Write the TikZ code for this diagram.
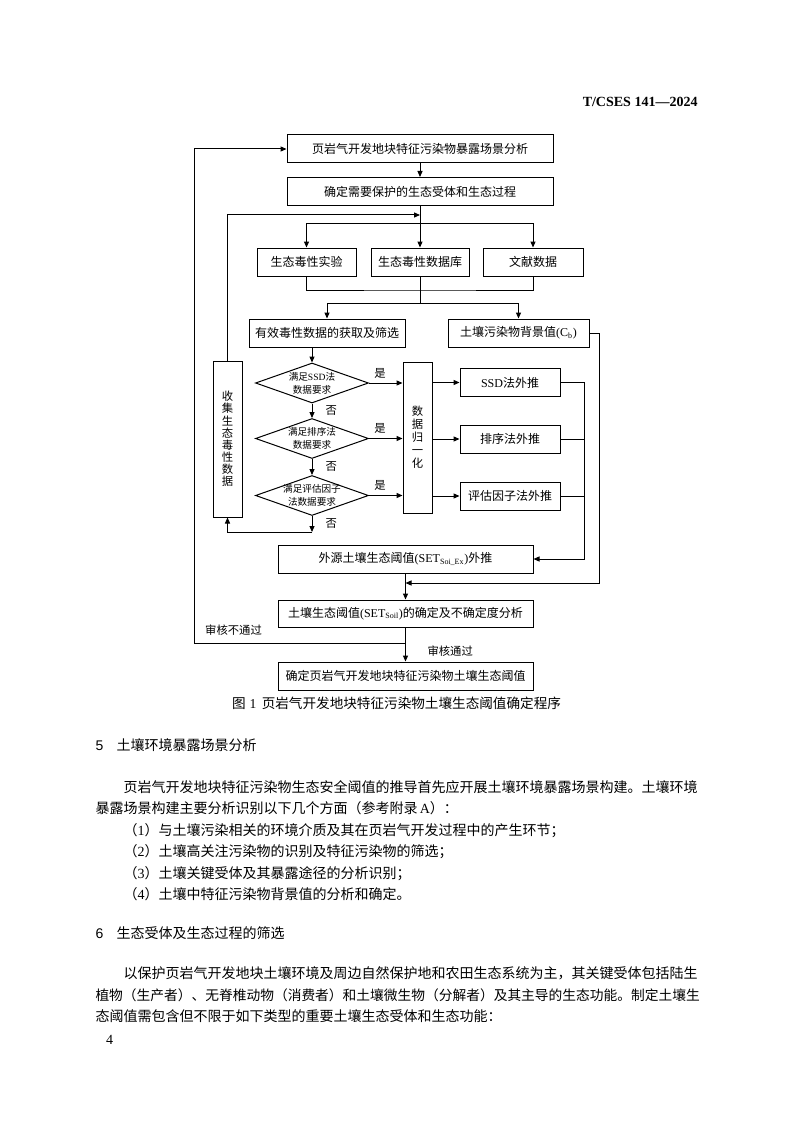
\documentclass[tikz,border=0pt]{standalone}
\usepackage{fontspec}
\setmainfont{Liberation Serif}
\setsansfont{Liberation Sans}
\newfontfamily\cjk{Noto Sans CJK SC}
\usetikzlibrary{positioning,shapes.geometric,arrows.meta}
\newcommand{\lat}[1]{{\rmfamily #1}}

\tikzset{every picture/.style={line width=0.75pt}}
\tikzset{
  box/.style={draw, inner sep=0.75pt, minimum height=21pt, font=\cjk\fontsize{9}{10}\selectfont},
  dia/.style={draw, diamond, shape aspect=2.8, inner sep=-3pt, minimum width=84.75pt, minimum height=30pt, align=center, font=\cjk\fontsize{7.2}{9.8}\selectfont},
  vbox/.style={draw, inner sep=0.75pt, minimum width=21.75pt, align=center},
  lbl/.style={inner sep=0.75pt, font=\cjk\fontsize{8.5}{10}\selectfont},
  body/.style={anchor=base west, inner sep=0pt, font=\cjk\fontsize{10.5}{16}\selectfont},
  flow/.style={-{Triangle[length=4.5pt,width=3.8pt]}},
}

\begin{document}
\begin{tikzpicture}[x=0.75pt,y=0.75pt,yscale=-1,xscale=1]
\useasboundingbox (0,0) rectangle (794,1123);

% Text Node
\node[anchor=base east, inner sep=0pt, font=\bfseries\fontsize{10.5}{12}\selectfont] (std) at (698,106.3) {T/CSES 141—2024};

%Shape: Rectangle
\node[box, minimum width=199.5pt] (scene) at (420,149) {页岩气开发地块特征污染物暴露场景分析};
%Shape: Rectangle
\node[box, minimum width=199.5pt] (recep) at (420,191.5) {确定需要保护的生态受体和生态过程};
%Shape: Rectangle
\node[box, minimum width=74.25pt] (expt) at (306.5,262) {生态毒性实验};
\node[box, minimum width=73.5pt] (dbase) at (420,262) {生态毒性数据库};
\node[box, minimum width=75pt] (lit) at (533,262) {文献数据};
%Shape: Rectangle
\node[box, minimum width=117pt] (valid) at (327,333) {有效毒性数据的获取及筛选};
\node[box, minimum width=105.75pt] (bkgd) at (518.5,333) {土壤污染物背景值\lat{(C\textsubscript{b})}};

%Shape: Rectangle
\node[vbox, minimum height=117pt, font=\cjk\fontsize{8.5}{9.1}\selectfont] (collect) at (227.5,439) {收\\集\\生\\态\\毒\\性\\数\\据};
%Shape: Diamond
\node[dia] (dssd) at (312,383) {满足\lat{SSD}法\\数据要求};
\node[dia] (drank) at (312,438.5) {满足排序法\\数据要求};
\node[dia] (deval) at (312,495.5) {满足评估因子\\法数据要求};
%Shape: Rectangle
\node[vbox, minimum height=113.25pt, font=\cjk\fontsize{8.5}{9.75}\selectfont] (norm) at (417.5,437.5) {数\\据\\归\\一\\化};
%Shape: Rectangle
\node[box, minimum width=75pt] (ssd) at (510,382.5) {\lat{SSD}法外推};
\node[box, minimum width=75pt] (rank) at (510,439) {排序法外推};
\node[box, minimum width=75pt] (evalx) at (510,496) {评估因子法外推};
%Shape: Rectangle
\node[box, minimum width=191.25pt] (ext) at (405.5,559) {外源土壤生态阈值\lat{(SET\textsubscript{Soi\_Ex})}外推};
\node[box, minimum width=191.25pt, minimum height=20.25pt] (soilset) at (405.5,613.5) {土壤生态阈值\lat{(SET\textsubscript{Soil})}的确定及不确定度分析};
\node[box, minimum width=191.25pt] (final) at (405.5,676) {确定页岩气开发地块特征污染物土壤生态阈值};

\coordinate (split1) at (420,224);
\coordinate (loop1) at (420,215);
\coordinate (join1) at (420,290);
\coordinate (split2) at (420,303);
\coordinate (right1) at (584,559);
\coordinate (right2) at (599,583);
\coordinate (loop2) at (405.5,643);
\coordinate (outer) at (194,643);

%Straight Lines
\draw[flow] (scene.south) -- (recep.north);
\draw (recep.south) -- (split1);
\draw[flow] (split1) -- (dbase.north);
\draw[flow] (split1) -| (expt.north);
\draw[flow] (split1) -| (lit.north);
%Straight Lines
\draw (expt.south) |- (join1) -| (lit.south);
\draw (dbase.south) -- (split2);
\draw[flow] (split2) -| (valid.north);
\draw[flow] (split2) -| (bkgd.north);
%Straight Lines
\draw[flow] (valid.south -| dssd.north) -- (dssd.north);
\draw[flow] (dssd.south) -- (drank.north) node[lbl, midway, anchor=west, xshift=9pt] {否};
\draw[flow] (drank.south) -- (deval.north) node[lbl, midway, anchor=west, xshift=9pt] {否};
\draw[flow] (deval.south) -- ++(0,16) coordinate (back) node[lbl, midway, anchor=west, xshift=9pt] {否};
\draw[flow] (back) -| (collect.south);
\draw[flow] (collect.north) |- (loop1);
%Straight Lines
\draw[flow] (dssd.east) -- (dssd.east -| norm.west) node[lbl, pos=0.33, anchor=south, inner ysep=3.2pt] {是};
\draw[flow] (drank.east) -- (drank.east -| norm.west) node[lbl, pos=0.33, anchor=south, inner ysep=3.2pt] {是};
\draw[flow] (deval.east) -- (deval.east -| norm.west) node[lbl, pos=0.33, anchor=south, inner ysep=3.2pt] {是};
\draw[flow] (norm.east |- ssd.west) -- (ssd.west);
\draw[flow] (norm.east |- rank.west) -- (rank.west);
\draw[flow] (norm.east |- evalx.west) -- (evalx.west);
%Straight Lines
\draw[flow] (ssd.east) -| (right1) -- (ext.east);
\draw (rank.east) -- (rank.east -| right1);
\draw (evalx.east) -- (evalx.east -| right1);
\draw[flow] (bkgd.east) -| (right2) -- (right2 -| ext.south);
%Straight Lines
\draw[flow] (ext.south) -- (soilset.north);
\draw[flow] (soilset.south) -- (final.north) node[lbl, pos=0.686, anchor=west, xshift=15.4pt] {审核通过};
\draw[flow] (loop2) -- (outer) node[lbl, pos=0.813, anchor=south, inner ysep=5.5pt] {审核不通过} |- (scene.west);

% Text Node
\node[anchor=base, inner sep=0pt, font=\cjk\fontsize{10.2}{12}\selectfont] (cap) at (396.5,708.6) {图\hspace{3pt}\lat{1}\hspace{4pt}页岩气开发地块特征污染物土壤生态阈值确定程序};

% Text Node
\node[body] (h5) at (95,750) {{\sffamily 5}\hspace{10pt}土壤环境暴露场景分析};
\node[body] (p1) at (123,792) {页岩气开发地块特征污染物生态安全阈值的推导首先应开展土壤环境暴露场景构建。土壤环境};
\node[body] (p2) at (95,813.5) {暴露场景构建主要分析识别以下几个方面（参考附录\,\lat{A}）：};
\node[body] (p3) at (123,835) {（\lat{1}）与土壤污染相关的环境介质及其在页岩气开发过程中的产生环节；};
\node[body] (p4) at (123,856.5) {（\lat{2}）土壤高关注污染物的识别及特征污染物的筛选；};
\node[body] (p5) at (123,878) {（\lat{3}）土壤关键受体及其暴露途径的分析识别；};
\node[body] (p6) at (123,899.5) {（\lat{4}）土壤中特征污染物背景值的分析和确定。};
% Text Node
\node[body] (h6) at (95,938.6) {{\sffamily 6}\hspace{10pt}生态受体及生态过程的筛选};
\node[body] (q1) at (123,978.6) {以保护页岩气开发地块土壤环境及周边自然保护地和农田生态系统为主，其关键受体包括陆生};
\node[body, font=\cjk\fontsize{10.3}{16}\selectfont] (q2) at (95,1000) {植物（生产者）、无脊椎动物（消费者）和土壤微生物（分解者）及其主导的生态功能。制定土壤生};
\node[body] (q3) at (95,1021.6) {态阈值需包含但不限于如下类型的重要土壤生态受体和生态功能：};
% Text Node
\node[anchor=base, inner sep=0pt, font=\fontsize{10.5}{12}\selectfont] (pg) at (109.7,1044.7) {4};

\end{tikzpicture}
\end{document}
